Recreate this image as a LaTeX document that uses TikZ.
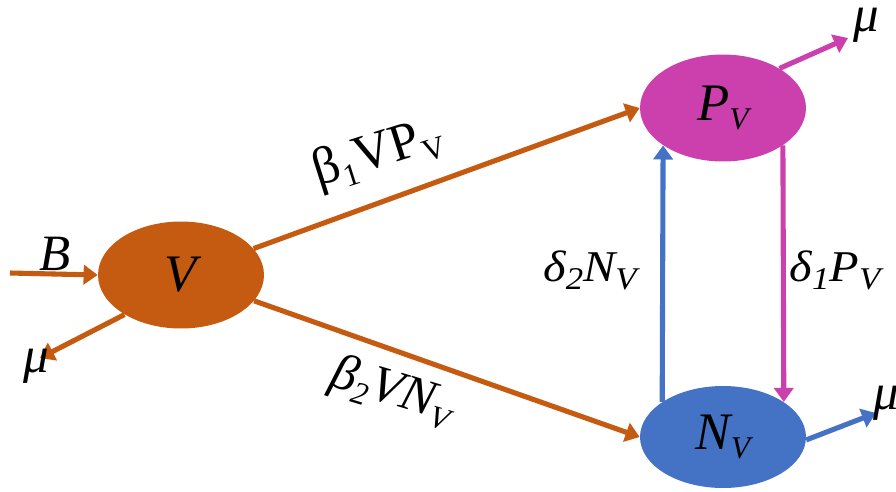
\documentclass[tikz,border=0pt]{standalone}
\usepackage{fontspec}
\setmainfont{Liberation Serif}
\usetikzlibrary{arrows.meta,shapes.geometric}
\definecolor{vorange}{HTML}{C55A11}
\definecolor{pmagenta}{HTML}{CC40AE}
\definecolor{nblue}{HTML}{4472C4}
\newcommand{\lowsub}[1]{\raisebox{-0.4ex}{\fontsize{18}{20}\selectfont #1}}
\tikzset{
  comp/.style={ellipse,minimum width=3.32cm,minimum height=2.14cm,inner sep=0pt,font=\fontsize{30}{34}\selectfont\itshape},
  flow/.style={line width=2.9pt,-{Triangle[length=8pt,width=11pt]}},
  lab/.style={font=\fontsize{29}{32}\selectfont\itshape,inner sep=0pt}
}
\begin{document}
\begin{tikzpicture}[x=0.02cm,y=-0.02cm]
\useasboundingbox (0,0) rectangle (896,491);
\node[comp,fill=vorange] (V) at (181,275) {V};
\node[comp,fill=pmagenta] (P) at (723,108) {P\lowsub{V}};
\node[comp,fill=nblue,minimum height=2.04cm] (N) at (723,437) {N\lowsub{V}};
\coordinate (Bin) at (10,273);
\coordinate (muV) at (40,358);
\coordinate (muP) at (848,38);
\coordinate (muN) at (876,413);
\draw[flow,vorange] (Bin) -- (V.west);
\draw[flow,vorange] (V.215) -- (muV);
\draw[flow,vorange] (V) -- (P.west);
\draw[flow,vorange] (V) -- (N.west);
\draw[flow,nblue] (N.150) -- (P.212);
\draw[flow,pmagenta] (P.-32) -- (N.30);
\draw[flow,pmagenta] (P.35) -- (muP);
\draw[flow,nblue] (N.-2) -- (muN);
\node[lab] (Blab) at (55,254) {B};
\node[lab] (muVlab) at (36,366) {μ};
\node[lab] (muPlab) at (866,25) {μ};
\node[lab] (muNlab) at (886,403) {μ};
\node[lab,font=\fontsize{30}{34}\selectfont,rotate=17.6] (b1lab) at (378,154) {β\lowsub{1}VP\lowsub{V}};
\node[lab,rotate=-17] (b2lab) at (392,392) {β\lowsub{2}VN\lowsub{V}};
\node[lab,font=\fontsize{25}{28}\selectfont\itshape,xscale=1.1] (d2lab) at (590,270) {δ\lowsub{2}N\lowsub{V}};
\node[lab,font=\fontsize{25}{28}\selectfont\itshape,xscale=1.1] (d1lab) at (835,270) {δ\lowsub{1}P\lowsub{V}};
\end{tikzpicture}
\end{document}
